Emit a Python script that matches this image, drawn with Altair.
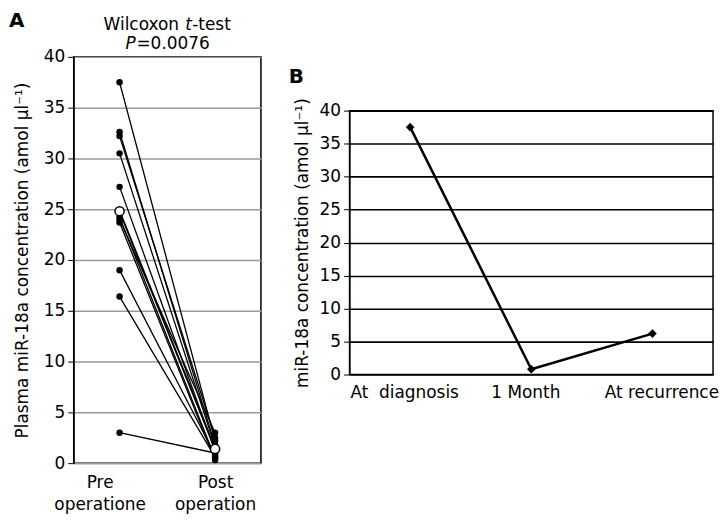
import altair as alt
import pandas as pd

# ---- data ----
stages = ["Pre operatione", "Post operation"]
pre_values = [37.5, 32.6, 32.2, 30.5, 27.2, 24.2, 24.0, 23.7, 19.0, 16.4, 3.0]
post_values = [2.2, 1.8, 2.5, 1.6, 1.2, 0.5, 3.0, 0.3, 0.8, 0.6, 1.0]
mean_values = [24.8, 1.4]

b_times = ["At\u00a0\u00a0diagnosis", "1 Month", "At recurrence"]
b_values = [37.5, 0.8, 6.2]

title_parts = ["Wilcoxon", "t", "-test", "P", "=0.0076"]

FONT = "DejaVu Sans"
FS = 17

rows = []
for i, (a, b) in enumerate(zip(pre_values, post_values)):
    rows.append({"patient": i, "stage": stages[0], "value": a})
    rows.append({"patient": i, "stage": stages[1], "value": b})
df_a = pd.DataFrame(rows)
df_mean = pd.DataFrame({"stage": stages, "value": mean_values})
df_b = pd.DataFrame({"time": b_times, "value": b_values})

x_a = alt.X("stage:N", sort=stages,
            scale=alt.Scale(type="point", padding=0.48),
            axis=alt.Axis(title=None, labelExpr="split(datum.label, ' ')",
                          labelAngle=0, labelFontSize=FS, labelLineHeight=23,
                          labelPadding=11, ticks=False, domain=False,
                          labelOffset={"condition": {"test": "datum.value == 'Pre operatione'",
                                                     "value": -20},
                                       "value": 0},
                          labelColor="black", labelFont=FONT))
y_a = alt.Y("value:Q", scale=alt.Scale(domain=[0, 40], nice=False),
            axis=alt.Axis(title="Plasma miR-18a concentration (amol \u03bcl\u207b\u00b9)",
                          values=list(range(0, 41, 5)), labelFontSize=FS,
                          titleFontSize=FS, titleFontWeight="normal",
                          titlePadding=12, tickSize=6, labelPadding=3,
                          tickColor="black", domainColor="black",
                          gridColor="#9a9a9a", gridWidth=1.5,
                          labelColor="black", titleColor="black",
                          labelFont=FONT, titleFont=FONT))

base_a = alt.Chart(df_a)
lines_a = base_a.mark_line(color="black", strokeWidth=1.3).encode(
    x=x_a, y=y_a, detail="patient:N")
pts_a = base_a.mark_circle(color="black", size=42, opacity=1).encode(
    x=x_a, y=y_a)
mean_line = alt.Chart(df_mean).mark_line(color="black", strokeWidth=2).encode(
    x=x_a, y=y_a)
mean_pts = alt.Chart(df_mean).mark_point(
    filled=True, fill="white", stroke="black", strokeWidth=1.5, size=85, opacity=1
).encode(x=x_a, y=y_a)


def txt(s, x, y, **kw):
    return alt.Chart(pd.DataFrame({"t": [s]})).mark_text(
        font=FONT, color="black", **kw
    ).encode(text="t:N", x=alt.value(x), y=alt.value(y))


label_a = txt("A", -65, -46, fontSize=20, fontWeight="bold",
              align="left", baseline="top")
t1 = txt(title_parts[0], 30, -32, fontSize=FS, align="left", baseline="middle")
t2 = txt(title_parts[1], 112, -32, fontSize=FS, fontStyle="italic",
         align="left", baseline="middle")
t3 = txt(title_parts[2], 119, -32, fontSize=FS, align="left", baseline="middle")
t4 = txt(title_parts[3], 52, -13, fontSize=FS, fontStyle="italic",
         align="left", baseline="middle")
t5 = txt(title_parts[4], 63, -13, fontSize=FS, align="left", baseline="middle")

chart_a = alt.layer(lines_a, mean_line, pts_a, mean_pts,
                    label_a, t1, t2, t3, t4, t5).properties(
    width=188, height=408,
    view=alt.ViewBackground(stroke="black", strokeWidth=1.5),
)

# ---- panel B ----
x_b = alt.X("time:N", sort=b_times,
            scale=alt.Scale(type="point", padding=0.5),
            axis=alt.Axis(title=None, labelAngle=0, labelFontSize=FS,
                          labelPadding=10, ticks=False, domain=False,
                          labelOffset={"condition": {"test": "datum.value == 'At recurrence'",
                                                     "value": 9},
                                       "value": -6},
                          labelColor="black", labelFont=FONT))
y_b = alt.Y("value:Q", scale=alt.Scale(domain=[0, 40], nice=False),
            axis=alt.Axis(title="miR-18a concentration (amol \u03bcl\u207b\u00b9)",
                          values=list(range(0, 41, 5)), labelFontSize=FS,
                          titleFontSize=FS, titleFontWeight="normal",
                          titlePadding=8, tickSize=6, labelPadding=3,
                          tickColor="black", domainColor="black",
                          gridColor="black", gridWidth=1.6,
                          labelColor="black", titleColor="black",
                          labelFont=FONT, titleFont=FONT))
line_b = alt.Chart(df_b).mark_line(color="black", strokeWidth=2.5).encode(x=x_b, y=y_b)
pts_b = alt.Chart(df_b).mark_point(shape="diamond", filled=True, color="black",
                                   size=75, opacity=1).encode(x=x_b, y=y_b)
label_b = txt("B", -61, -44, fontSize=20, fontWeight="bold",
              align="left", baseline="top")
chart_b = alt.layer(line_b, pts_b, label_b).properties(
    width=365, height=265,
    view=alt.ViewBackground(stroke="black", strokeWidth=1.5),
)

spacer_b = alt.Chart(pd.DataFrame({"t": [""]})).mark_text(
    fontSize=1, color="white"
).encode(text="t:N", x=alt.value(0), y=alt.value(0)).properties(
    width=365, height=4,
    view=alt.ViewBackground(stroke="transparent"),
)

right = alt.vconcat(spacer_b, chart_b, spacing=4)

chart = alt.hconcat(chart_a, right, spacing=26).properties(
    padding={"left": 0, "top": 1, "right": 0, "bottom": 0}
).configure(font=FONT)

chart.save("out.html", embed_options={"renderer": "svg", "actions": False})
